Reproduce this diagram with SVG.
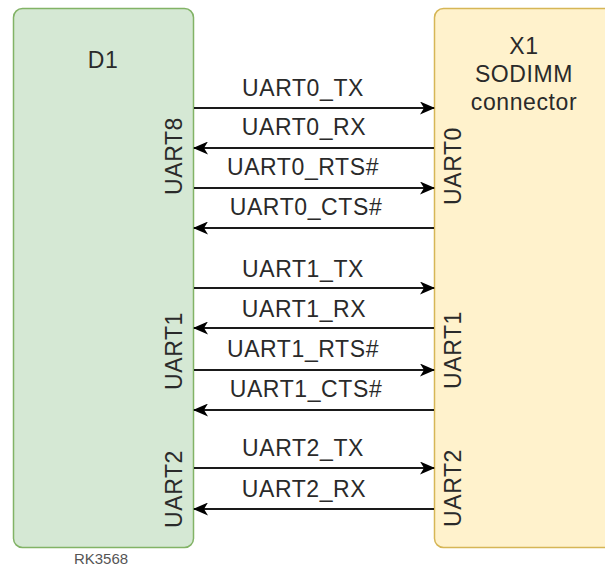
<svg xmlns="http://www.w3.org/2000/svg" width="605" height="568" viewBox="0 0 605 568">
<defs>
<style>
.t{font-family:"Liberation Sans",Arial,sans-serif;font-size:23px;letter-spacing:0.6px;fill:#2a2a2a;text-anchor:middle}
.s{font-family:"Liberation Sans",Arial,sans-serif;font-size:15px;fill:#555;text-anchor:middle}
.c{stroke:#1a1a1a;stroke-width:1.8;fill:none;marker-end:url(#arr)}
</style>
<marker id="arr" viewBox="0 0 15 13" refX="14" refY="6.5" markerWidth="15" markerHeight="13" markerUnits="userSpaceOnUse" orient="auto">
<path d="M0,0 L15,6.5 L0,13 L4,6.5 Z" fill="#000"/>
</marker>
</defs>
<rect width="605" height="568" fill="#fff"/>
<g id="D1">
<rect x="13.5" y="8.5" width="180" height="539" rx="9" fill="#d5e8d4" stroke="#82b366" stroke-width="1.5"/>
<text class="t" x="103" y="68">D1</text>
<text class="t" transform="translate(182 156) rotate(-90)">UART8</text>
<text class="t" transform="translate(182 351) rotate(-90)">UART1</text>
<text class="t" transform="translate(182 489) rotate(-90)">UART2</text>
<text class="s" x="101" y="564">RK3568</text>
</g>
<g id="X1">
<rect x="434.5" y="8.5" width="190" height="539" rx="9" fill="#fff2cc" stroke="#d6b656" stroke-width="1.5"/>
<text class="t" x="524" y="54">X1</text>
<text class="t" x="524" y="82">SODIMM</text>
<text class="t" x="524" y="110">connector</text>
<text class="t" transform="translate(461 166) rotate(-90)">UART0</text>
<text class="t" transform="translate(461 350) rotate(-90)">UART1</text>
<text class="t" transform="translate(461 488) rotate(-90)">UART2</text>
</g>
<g id="connectors">
<line class="c" x1="194" y1="108" x2="434" y2="108"/>
<line class="c" x1="434" y1="148" x2="194" y2="148"/>
<line class="c" x1="194" y1="188" x2="434" y2="188"/>
<line class="c" x1="434" y1="228" x2="194" y2="228"/>
<line class="c" x1="194" y1="288" x2="434" y2="288"/>
<line class="c" x1="434" y1="328" x2="194" y2="328"/>
<line class="c" x1="194" y1="370" x2="434" y2="370"/>
<line class="c" x1="434" y1="410" x2="194" y2="410"/>
<line class="c" x1="194" y1="468" x2="434" y2="468"/>
<line class="c" x1="434" y1="509" x2="194" y2="509"/>
<text class="t" x="303" y="96">UART0_TX</text>
<text class="t" x="304" y="135">UART0_RX</text>
<text class="t" x="303" y="175">UART0_RTS#</text>
<text class="t" x="306" y="215">UART0_CTS#</text>
<text class="t" x="303" y="277">UART1_TX</text>
<text class="t" x="304" y="317">UART1_RX</text>
<text class="t" x="303" y="357">UART1_RTS#</text>
<text class="t" x="306" y="397">UART1_CTS#</text>
<text class="t" x="303" y="456">UART2_TX</text>
<text class="t" x="304" y="497">UART2_RX</text>
</g>
</svg>
